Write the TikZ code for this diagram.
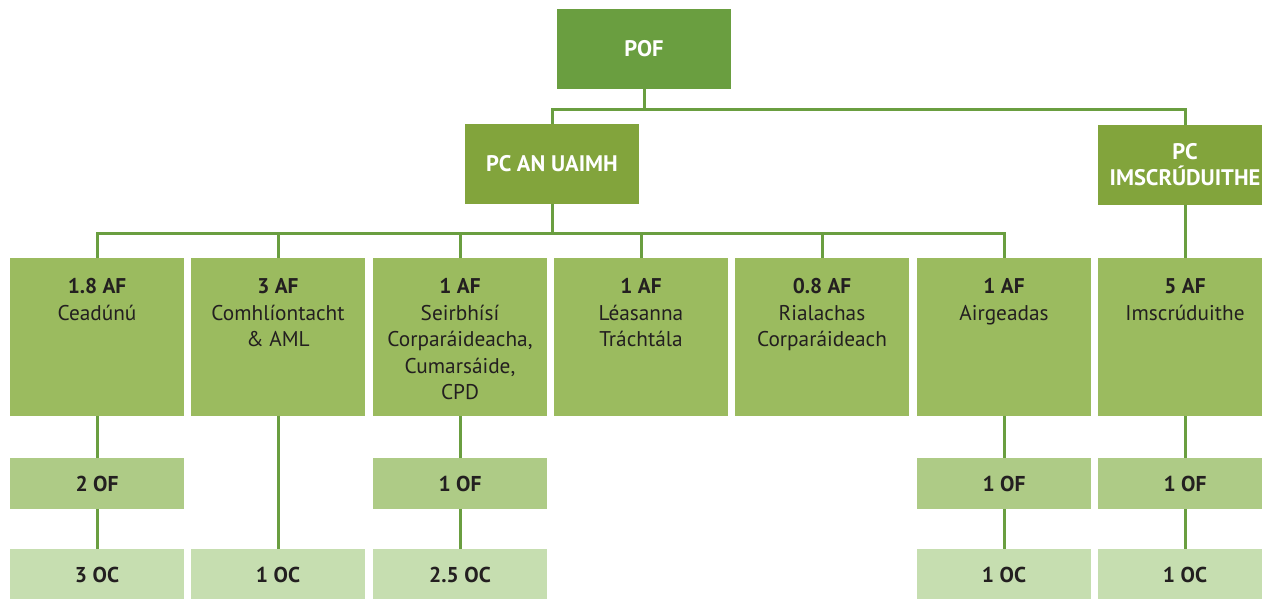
\documentclass[tikz,border=0pt]{standalone}
\usepackage{fontspec}
\setmainfont{PT Sans}
\definecolor{cpof}{HTML}{6A9E40}
\definecolor{cpc}{HTML}{82A43C}
\definecolor{caf}{HTML}{9BBB5F}
\definecolor{cof}{HTML}{AECB86}
\definecolor{coc}{HTML}{C6DEB0}
\definecolor{cline}{HTML}{6A9E40}
\definecolor{ctext}{HTML}{231F20}
\tikzset{
  box/.style={minimum width=174pt, inner sep=0pt, outer sep=0pt, draw=none, align=center, font=\fontsize{21.5}{26}\selectfont\bfseries},
  topbox/.style={box, fill=cpof, minimum height=80pt, text=white, font=\fontsize{22.5}{26}\selectfont\bfseries},
  pcbox/.style={box, fill=cpc, minimum height=80pt, text=white, font=\fontsize{22.5}{26}\selectfont\bfseries},
  afbox/.style={box, fill=caf, minimum height=158pt},
  ofbox/.style={box, fill=cof, minimum height=51pt, text=ctext},
  ocbox/.style={box, fill=coc, minimum height=51pt, text=ctext},
  aftext/.style={anchor=north, inner sep=0pt, align=center, text=ctext, font=\fontsize{21.3}{26.5}\selectfont},
  conn/.style={draw=cline, line width=3pt, line join=miter}
}
\begin{document}
\begin{tikzpicture}[x=1pt, y=-1pt]
\useasboundingbox (0,0) rectangle (1262,598);
% top
\node[topbox] (pof) at (644,49) {POF};
\node[pcbox] (pc1) at (552,164) {PC AN UAIMH};
\node[pcbox] (pc2) at (1185,164.5) {PC\\IMSCRÚDUITHE};
\coordinate (bus1) at (0,109);
\coordinate (bus2) at (0,233);
% AF boxes
\node[afbox] (a1) at (97,337) {};
\node[afbox] (a2) at (278,337) {};
\node[afbox] (a3) at (460,337) {};
\node[afbox] (a4) at (641,337) {};
\node[afbox] (a5) at (822,337) {};
\node[afbox] (a6) at (1004,337) {};
\node[afbox] (a7) at (1185,337) {};
\node[aftext] (t1) at ([yshift=-20.5pt]a1.north) {\textbf{1.8 AF}\\Ceadúnú};
\node[aftext] (t2) at ([yshift=-20.5pt]a2.north) {\textbf{3 AF}\\Comhlíontacht\\\& AML};
\node[aftext] (t3) at ([yshift=-20.5pt]a3.north) {\textbf{1 AF}\\Seirbhísí\\Corparáideacha,\\Cumarsáide,\\CPD};
\node[aftext] (t4) at ([yshift=-20.5pt]a4.north) {\textbf{1 AF}\\Léasanna\\Tráchtála};
\node[aftext] (t5) at ([yshift=-20.5pt]a5.north) {\textbf{0.8 AF}\\Rialachas\\Corparáideach};
\node[aftext] (t6) at ([yshift=-20.5pt]a6.north) {\textbf{1 AF}\\Airgeadas};
\node[aftext] (t7) at ([yshift=-20.5pt]a7.north) {\textbf{5 AF}\\Imscrúduithe};
% OF boxes
\node[ofbox] (f1) at (97,483.5) {2 OF};
\node[ofbox] (f3) at (460,483.5) {1 OF};
\node[ofbox] (f6) at (1004,483.5) {1 OF};
\node[ofbox] (f7) at (1185,483.5) {1 OF};
% OC boxes
\node[ocbox] (c1) at (97,574.5) {3 OC};
\node[ocbox] (c2) at (278,574.5) {1 OC};
\node[ocbox] (c3) at (460,574.5) {2.5 OC};
\node[ocbox] (c6) at (1004,574.5) {1 OC};
\node[ocbox] (c7) at (1185,574.5) {1 OC};
% connectors
\draw[conn] (pof.south) -- (pof.south |- bus1) -| (pc1.north);
\draw[conn] (pof.south |- bus1) -| (pc2.north);
\draw[conn] (pc1.south) -- (pc1.south |- bus2);
\foreach \n in {a1,a2,a3,a4,a5,a6}{
  \draw[conn] (pc1.south |- bus2) -| (\n.north);
}
\draw[conn] (pc2.south) -- (a7.north);
\draw[conn] (a1.south) -- (f1.north);
\draw[conn] (f1.south) -- (c1.north);
\draw[conn] (a2.south) -- (c2.north);
\draw[conn] (a3.south) -- (f3.north);
\draw[conn] (f3.south) -- (c3.north);
\draw[conn] (a6.south) -- (f6.north);
\draw[conn] (f6.south) -- (c6.north);
\draw[conn] (a7.south) -- (f7.north);
\draw[conn] (f7.south) -- (c7.north);
\end{tikzpicture}
\end{document}
